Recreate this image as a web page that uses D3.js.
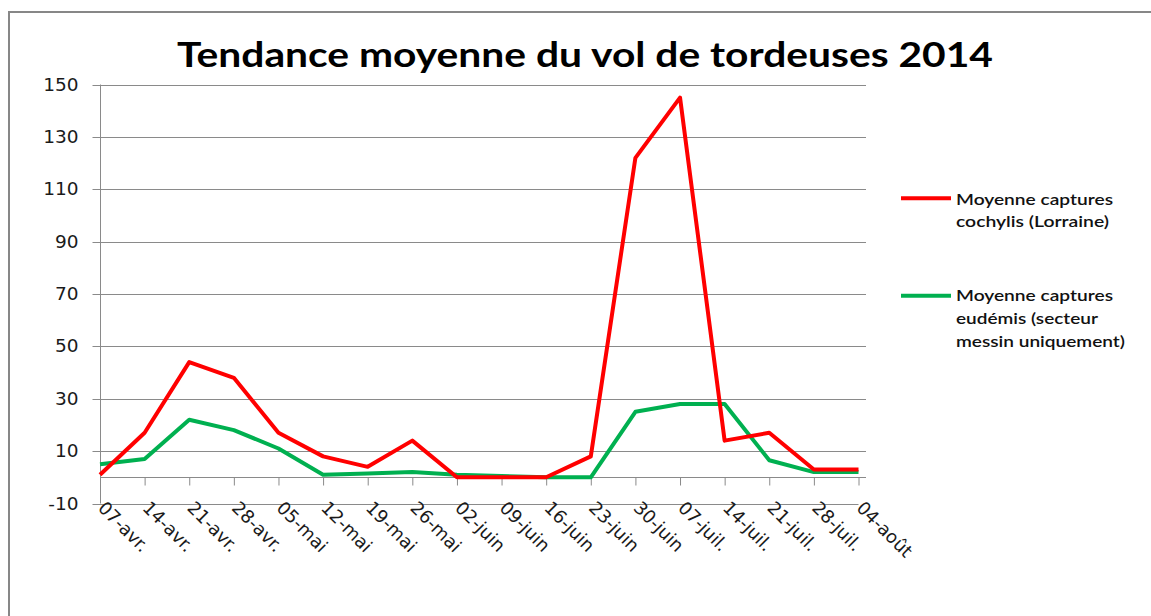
<!DOCTYPE html>
<html><head><meta charset="utf-8">
<script src="https://cdn.jsdelivr.net/npm/d3@7"></script>
<style>body{margin:0;background:#fff;} svg{display:block;}</style>
</head><body>
<svg id="chart" width="1151" height="616"></svg>
<script>
const categories = ["07-avr.","14-avr.","21-avr.","28-avr.","05-mai","12-mai","19-mai","26-mai","02-juin","09-juin","16-juin","23-juin","30-juin","07-juil.","14-juil.","21-juil.","28-juil.","04-août"];
const cochylis = [1, 17, 44, 38, 17, 8, 4, 14, 0, 0, 0, 8, 122, 145, 14, 17, 3, 3];
const eudemis = [5, 7, 22, 18, 11, 1, 1.5, 2, 1, 0.5, 0, 0, 25, 28, 28, 6.5, 2, 2];
const yTicks = [-10, 10, 30, 50, 70, 90, 110, 130, 150];
const seriesNames = [["Moyenne captures","cochylis (Lorraine)"],["Moyenne captures","eudémis (secteur","messin uniquement)"]];
const title = "Tendance moyenne du vol de tordeuses 2014";

const svg = d3.select("#chart");
const gridColor = "#8a8a8a";

// outer chart border
svg.append("rect").attr("x",9).attr("y",12).attr("width",1160).attr("height",640)
  .attr("fill","none").attr("stroke","#878787").attr("stroke-width",2);

const x = d3.scalePoint().domain(categories).range([100, 858.5]);
const y = d3.scaleLinear().domain([-10,150]).range([503.5, 84.5]);
const plotRight = 866;

// gridlines
svg.append("g").selectAll("line").data(yTicks).join("line")
  .attr("x1",100).attr("x2",d=> d===-10 ? 858.5 : plotRight)
  .attr("y1",d=>Math.round(y(d))+0.5).attr("y2",d=>Math.round(y(d))+0.5)
  .attr("stroke",gridColor).attr("stroke-width",1);

// y axis
const yAxis = d3.axisLeft(y).tickValues(yTicks).tickSize(8).tickPadding(14).tickFormat(d=>String(d));
const gy = svg.append("g").attr("transform","translate(100.5,0)").call(yAxis);
gy.attr("font-family","DejaVu Sans").attr("font-size",18.5);
gy.select(".domain").attr("stroke",gridColor).attr("d","M0,84.5V503.5");
gy.selectAll(".tick line").attr("stroke",gridColor);
gy.selectAll(".tick text").style("font-family","'DejaVu Sans'").style("font-size","18.5px").attr("fill","#1a1a1a");
gy.selectAll(".tick").attr("transform",d=>`translate(0,${Math.round(y(d))+0.5})`);

// x axis at 0
const y0 = Math.round(y(0))+0.5;
const xAxis = d3.axisBottom(x).tickSize(8).tickSizeOuter(0).tickFormat("");
const gx = svg.append("g").attr("transform",`translate(0,${y0})`).call(xAxis);
gx.select(".domain").attr("stroke",gridColor).attr("d",`M100,0H${plotRight}`);
gx.selectAll(".tick line").attr("stroke",gridColor);

// rotated category labels
svg.append("g").selectAll("text").data(categories).join("text")
  .attr("transform",d=>`translate(${x(d)-3},509) rotate(45)`)
  .style("font-family","'DejaVu Sans'").style("font-size","18px").attr("fill","#1a1a1a")
  .text(d=>d);

// lines
const line = d3.line().x((d,i)=>x(categories[i])).y(d=>y(d));
svg.append("path").datum(eudemis).attr("d",line).attr("fill","none")
  .attr("stroke","#00B050").attr("stroke-width",4).attr("stroke-linejoin","round");
svg.append("path").datum(cochylis).attr("d",line).attr("fill","none")
  .attr("stroke","#FF0000").attr("stroke-width",4).attr("stroke-linejoin","round");

// title
svg.append("text").attr("x",177).attr("y",67).attr("font-family","Lato").attr("font-weight","bold")
  .attr("font-size","35px").attr("fill","#000").attr("textLength",816).attr("lengthAdjust","spacingAndGlyphs")
  .text(title);

// legend
const legendColors = ["#FF0000","#00B050"];
const legendY = [198.3, 295.7];
const lineWidths = [[157,153],[157,142,169]];
const legendBase = [[204.5,227.3],[301,324,346.5]];
seriesNames.forEach((lines,k)=>{
  svg.append("line").attr("x1",901).attr("x2",951).attr("y1",legendY[k]).attr("y2",legendY[k])
    .attr("stroke",legendColors[k]).attr("stroke-width",4);
  lines.forEach((t,j)=>{
    svg.append("text").attr("x",956).attr("y",legendBase[k][j]).attr("font-family","Lato")
      .attr("font-size","15px").attr("font-weight","600").attr("fill","#111")
      .attr("textLength",lineWidths[k][j]).attr("lengthAdjust","spacingAndGlyphs").text(t);
  });
});
</script>
</body></html>
